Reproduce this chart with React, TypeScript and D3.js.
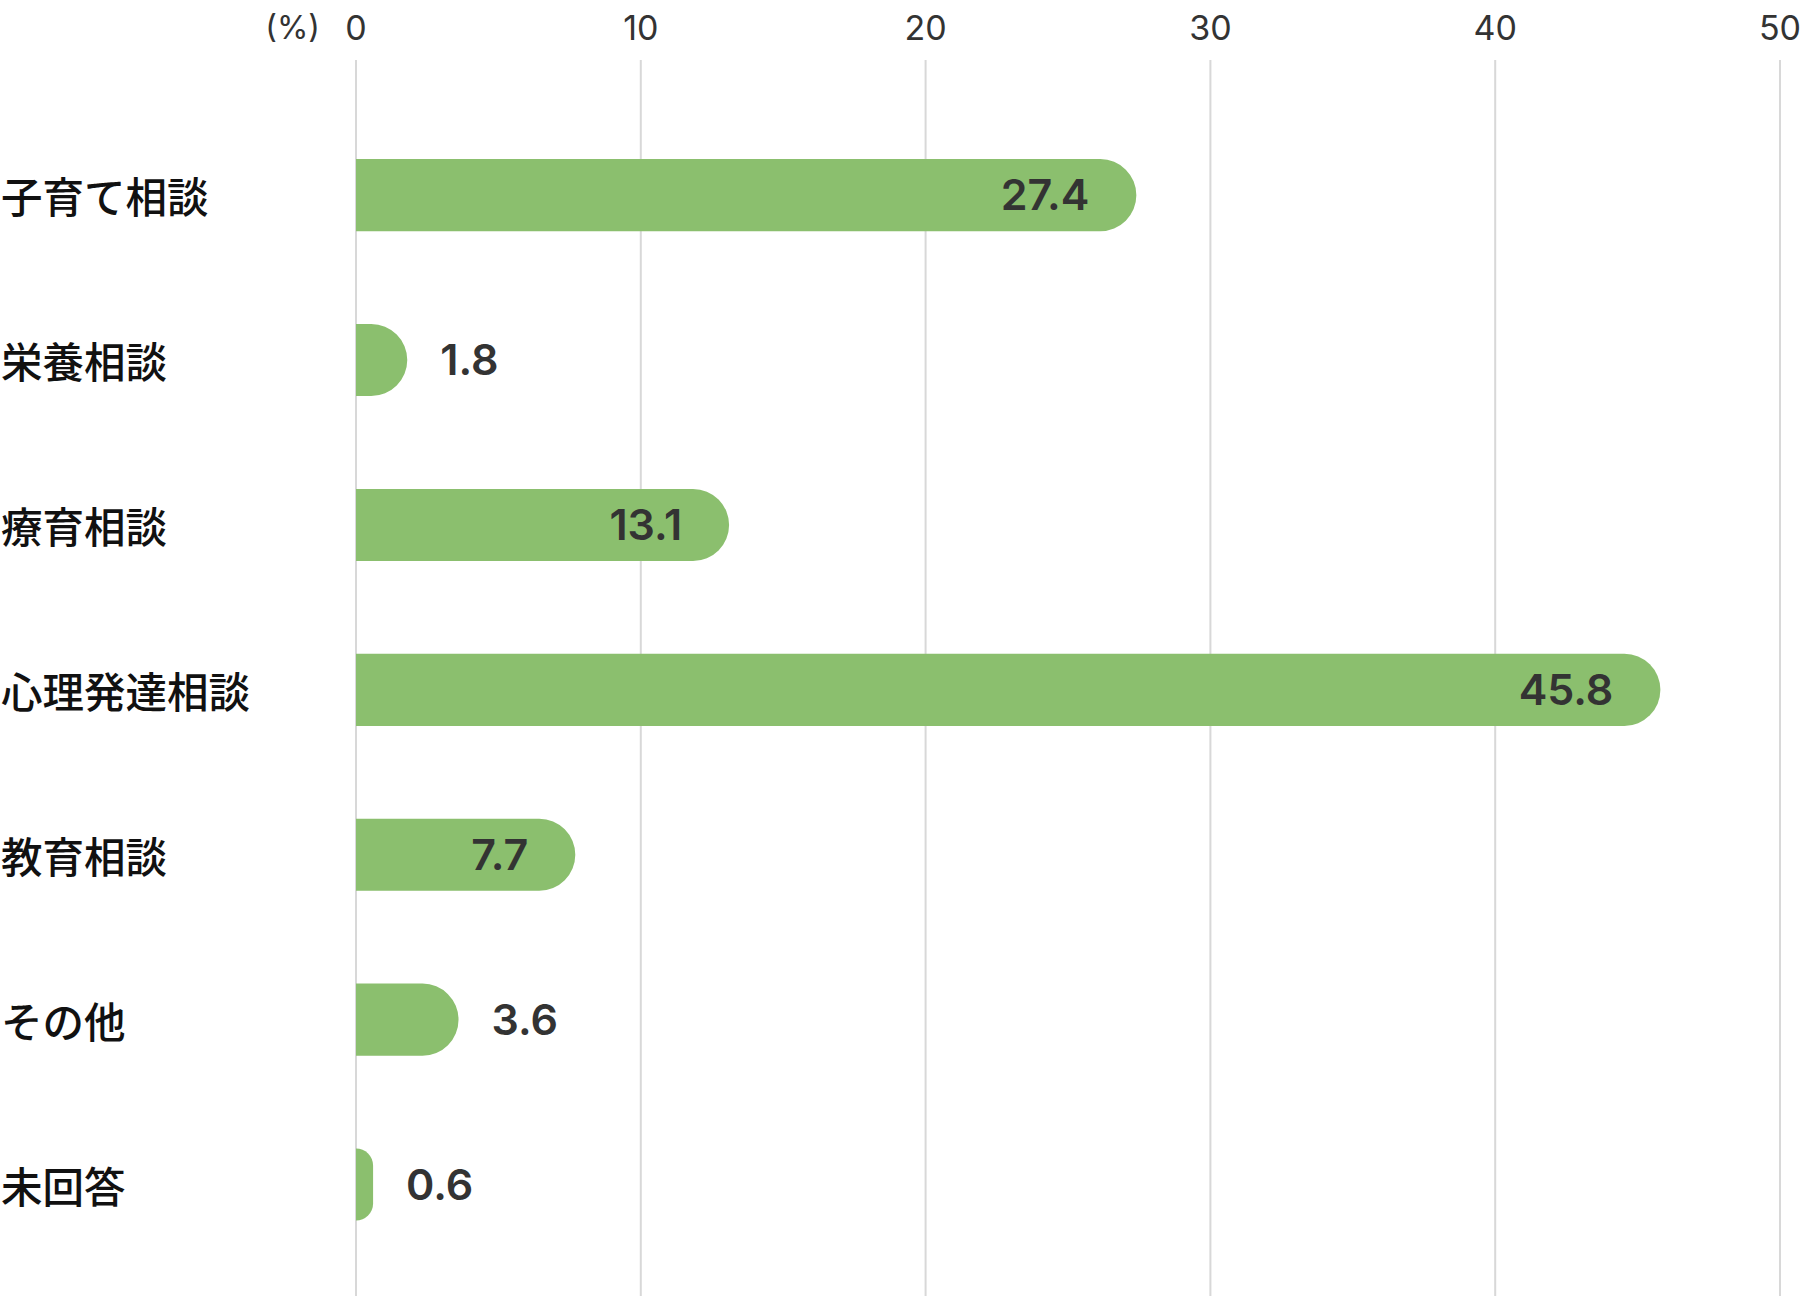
import React from "react";
import * as d3 from "d3";

const categories = ["子育て相談", "栄養相談", "療育相談", "心理発達相談", "教育相談", "その他", "未回答"];
const values = [27.4, 1.8, 13.1, 45.8, 7.7, 3.6, 0.6];
const ticks = [0, 10, 20, 30, 40, 50];
const unitLabel = "(%)";

const W = 1800;
const H = 1296;

export default function App() {
  const x = d3.scaleLinear().domain([0, 50]).range([356, 1780]);
  const y = d3
    .scaleBand<string>()
    .domain(categories)
    .range([112.7, 1267])
    .paddingInner(0.563)
    .paddingOuter(0.2815);
  const bh = y.bandwidth();

  const barPath = (v: number, top: number) => {
    const x0 = x(0);
    const x1 = x(v);
    const w = x1 - x0;
    const r = Math.min(bh / 2, w);
    const p = d3.path();
    p.moveTo(x0, top);
    p.lineTo(x1 - r, top);
    p.arcTo(x1, top, x1, top + r, r);
    p.lineTo(x1, top + bh - r);
    p.arcTo(x1, top + bh, x1 - r, top + bh, r);
    p.lineTo(x0, top + bh);
    p.closePath();
    return p.toString();
  };

  return (
    <svg
      width={W}
      height={H}
      style={{ position: "absolute", left: 0, top: 0, background: "#fff" }}
    >
      {ticks.map((t) => (
        <g key={t}>
          <line x1={x(t)} x2={x(t)} y1={60} y2={H} stroke="#d8d8d8" strokeWidth={2} />
          <text
            x={x(t)}
            y={27.5}
            textAnchor="middle"
            dominantBaseline="central"
            fontFamily="Inter, Roboto, sans-serif"
            fontSize={34}
            fill="#333"
          >
            {t}
          </text>
        </g>
      ))}
      <text
        x={320}
        y={27.5}
        textAnchor="end"
        dominantBaseline="central"
        fontFamily="Inter, Roboto, sans-serif"
        fontSize={32}
        fill="#333"
      >
        {unitLabel}
      </text>
      {categories.map((c, i) => {
        const v = values[i];
        const top = y(c)!;
        const cy = top + bh / 2;
        const inside = x(v) - x(0) > 150;
        return (
          <g key={c}>
            <text
              x={1}
              y={cy}
              dominantBaseline="central"
              fontFamily="'Noto Sans CJK JP', sans-serif"
              fontSize={41.5}
              fontWeight={500}
              fill="#111"
            >
              {c}
            </text>
            <path d={barPath(v, top)} fill="#8bbf6e" />
            <text
              x={inside ? x(v) - 47 : x(v) + 33}
              y={cy - 1}
              textAnchor={inside ? "end" : "start"}
              dominantBaseline="central"
              fontFamily="Inter, Roboto, sans-serif"
              fontSize={43}
              fontWeight={600}
              fill="#333"
            >
              {v.toFixed(1)}
            </text>
          </g>
        );
      })}
    </svg>
  );
}
